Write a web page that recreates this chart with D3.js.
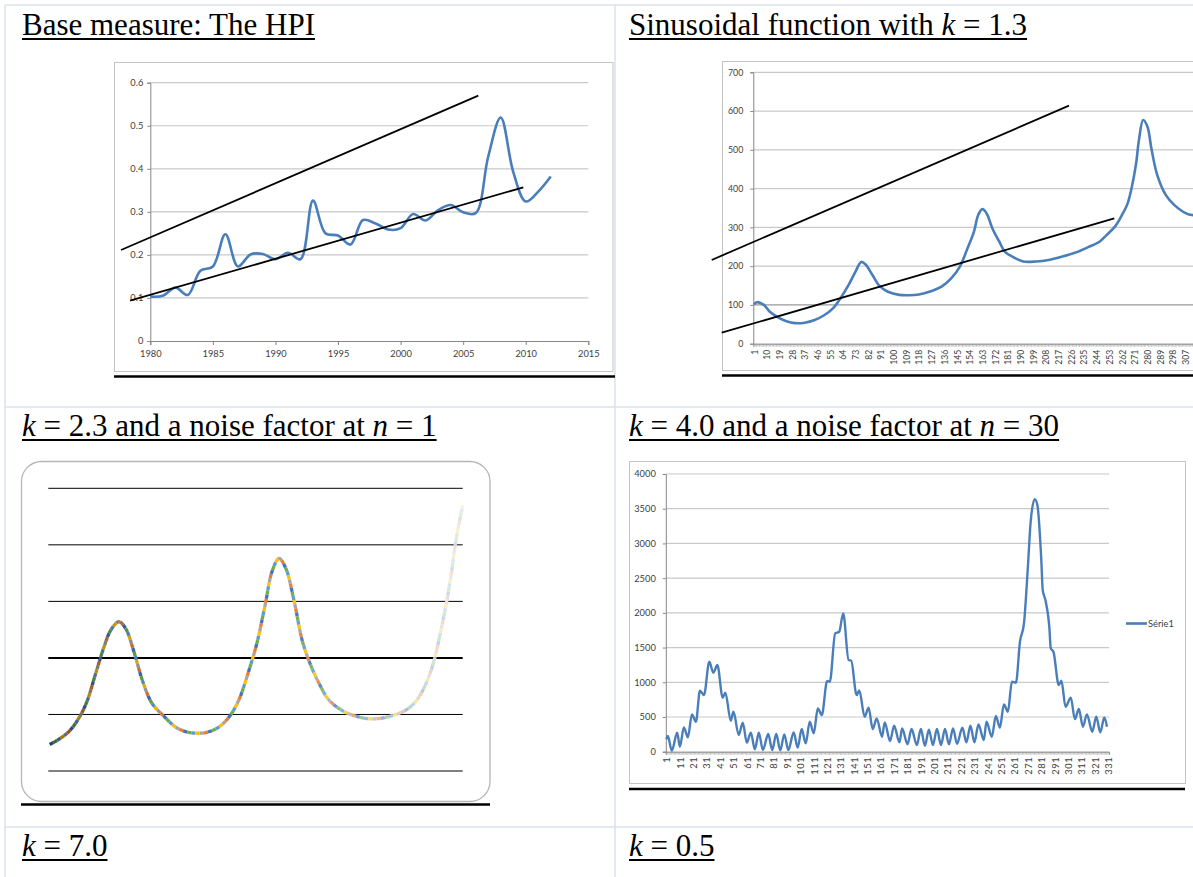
<!DOCTYPE html>
<html><head><meta charset="utf-8">
<script src="https://cdn.jsdelivr.net/npm/d3@7"></script>
<style>body{margin:0;background:#fff;overflow:hidden}svg{display:block}</style>
</head><body>
<svg id="c" width="1193" height="877"></svg>
<script>
// ---------- DATA ----------
// Titles (segments: [text, italic])
const title1 = [["Base measure: The HPI", false]];
const title2 = [["Sinusoidal function with ", false], ["k", true], [" = 1.3", false]];
const title3 = [["k", true], [" = 2.3 and a noise factor at ", false], ["n", true], [" = 1", false]];
const title4 = [["k", true], [" = 4.0 and a noise factor at ", false], ["n", true], [" = 30", false]];
const title5 = [["k", true], [" = 7.0", false]];
const title6 = [["k", true], [" = 0.5", false]];

// Chart 1: HPI
const hpiYears = [1980,1981,1982,1983,1984,1985,1986,1987,1988,1989,1990,1991,1992,1993,1994,1995,1996,1997,1998,1999,2000,2001,2002,2003,2004,2005,2006,2007,2008,2009,2010,2011,2012];
const hpiValues = [0.103,0.105,0.124,0.107,0.163,0.173,0.248,0.173,0.201,0.202,0.190,0.205,0.190,0.326,0.250,0.245,0.224,0.281,0.273,0.259,0.262,0.295,0.280,0.304,0.316,0.299,0.297,0.428,0.519,0.393,0.324,0.347,0.382];
const hpiTrendUpperX = [1977.66, 2006.21];
const hpiTrendUpperY = [0.2114, 0.5698];
const hpiTrendLowerX = [1978.38, 2009.81];
const hpiTrendLowerY = [0.0936, 0.357];
const hpiXTicks = [1980,1985,1990,1995,2000,2005,2010,2015];
const hpiYTicks = [0,0.1,0.2,0.3,0.4,0.5,0.6];

// Chart 2: sinusoidal k = 1.3
const sinCats = [1,3,8,12,18,24,30,37,44,51,57,63,68,73,77,80,85,90,96,104,111,118,127,134,141,147,152,157,160,163,166,170,175,179,185,192,201,210,219,229,238,246,251,257,262,266,269,272,274,277,280,283,287,293,299,305,309,316,325,330];
const sinValues = [101,107,100,83,68,58,53,54,61,74,91,121,151,186,211,205,177,149,134,126,125,127,136,147,169,199,242,289,332,347,336,298,263,237,223,212,212,216,224,235,249,263,280,302,332,362,405,465,525,577,560,500,435,384,358,341,334,330,327,325];
const sinCount = 330;
const sinTrendUpperX = [-29, 224.4];
const sinTrendUpperY = [216, 613.9];
const sinTrendLowerX = [-21.9, 256.5];
const sinTrendLowerY = [28.4, 323.4];
const sinXLabels = [1,10,19,28,37,46,55,64,73,82,91,100,109,118,127,136,145,154,163,172,181,190,199,208,217,226,235,244,253,262,271,280,289,298,307];
const sinYTicks = [0,100,200,300,400,500,600,700];

// Chart 3: k = 2.3, noise n = 1 (no axis labels)
const noise1X = [1,7,15,22,28,34,40,45,51,56,62,68,75,84,92,99,106,114,123,131,138,145,151,157,162,167,172,178,184,190,196,203,212,220,230,240,249,259,266,273,279,284,288,292,295,300];
const noise1Values = [47,55,70,93,123,170,217,248,264,252,211,161,120,96,78,70,67,68,77,96,126,176,226,294,353,376,358,300,229,187,155,126,108,99,93,93,98,108,123,152,193,246,294,353,406,470];
const noise1Grid = [0,100,200,300,400,500];

// Chart 4: k = 4.0, noise n = 30
const noise30Cats = [1,2,5,9,11,14,17,20,23,26,29,33,36,39,43,45,49,51,55,58,61,64,67,70,73,77,80,83,86,89,92,96,99,102,105,108,111,114,117,121,123,127,130,133,137,139,143,145,149,152,155,158,162,164,168,171,175,177,181,184,188,191,194,197,200,203,206,209,212,215,218,222,225,228,231,234,238,240,244,247,250,253,256,259,262,265,268,271,273,276,278,281,282,284,287,288,290,294,296,299,303,306,309,312,315,319,322,325,328,330];
const noise30Values = [180,226,14,274,72,350,206,538,432,878,816,1296,1138,1248,778,850,446,576,240,418,130,274,34,274,24,254,24,254,19,250,24,278,58,326,120,432,264,624,528,1018,1008,1704,1728,1992,1320,1310,816,883,504,634,326,480,216,422,154,374,134,336,106,326,96,326,86,317,96,326,96,326,106,336,115,346,134,374,134,394,168,432,216,514,346,682,576,1008,994,1584,1848,2688,3312,3638,3552,2736,2328,2184,1776,1488,1440,960,1022,648,778,470,614,360,538,288,504,278,494,360];
const noise30Count = 331;
const noise30XLabels = [1,11,21,31,41,51,61,71,81,91,101,111,121,131,141,151,161,171,181,191,201,211,221,231,241,251,261,271,281,291,301,311,321,331];
const noise30YTicks = [0,500,1000,1500,2000,2500,3000,3500,4000];
const noise30Legend = "Série1";

// ---------- STYLE ----------
const BLUE = "#4a7ebb", GRID = "#c9c9c9", AXIS = "#868686", LABEL = "#404040", FRAME = "#c4c4c4";
const TABLE = "#d8e2ec";
const SANS = "Lato, 'Liberation Sans', sans-serif";
const SERIF = "'Liberation Serif', 'Times New Roman', serif";

const svg = d3.select("#c");

// ---------- TABLE ----------
const tbl = svg.append("g").attr("stroke", TABLE).attr("stroke-width", 1.5);
[5, 407, 827].forEach(y => tbl.append("line").attr("x1", 5).attr("x2", 1193).attr("y1", y).attr("y2", y));
[5, 615].forEach(x => tbl.append("line").attr("x1", x).attr("x2", x).attr("y1", 5).attr("y2", 877));

function title(segs, x, y) {
  const t = svg.append("text").attr("x", x).attr("y", y)
    .style("font-family", SERIF).style("font-size", "31px").attr("fill", "#000");
  segs.forEach(s => t.append("tspan").text(s[0]).style("font-style", s[1] ? "italic" : "normal"));
  const w = t.node().getComputedTextLength();
  svg.append("line").attr("x1", x).attr("x2", x + w).attr("y1", y + 4).attr("y2", y + 4)
    .attr("stroke", "#000").attr("stroke-width", 2);
}
title(title1, 22, 35);
title(title2, 629, 35);
title(title3, 22, 436);
title(title4, 629, 436);
title(title5, 22, 856);
title(title6, 629, 856);

function styleAxis(g, fs) {
  g.select(".domain").attr("stroke", AXIS);
  g.selectAll(".tick line").attr("stroke", AXIS);
  g.selectAll(".tick text").attr("fill", LABEL).style("font-family", SANS).style("font-size", fs);
}
function thickRule(x1, x2, y) {
  svg.append("line").attr("x1", x1).attr("x2", x2).attr("y1", y).attr("y2", y)
    .attr("stroke", "#000").attr("stroke-width", 2.5);
}

// ---------- CHART 1 ----------
{
  const g = svg.append("g");
  g.append("rect").attr("x", 114.5).attr("y", 62.5).attr("width", 498.5).attr("height", 309)
    .attr("fill", "#fff").attr("stroke", FRAME);
  const x = d3.scaleLinear().domain([1980, 2015]).range([150.3, 588.3]);
  const y = d3.scaleLinear().domain([0, 0.6]).range([341, 82.7]);
  g.append("g").selectAll("line").data(hpiYTicks.filter(d => d > 0)).join("line")
    .attr("x1", x(1980)).attr("x2", x(2015)).attr("y1", d => y(d)).attr("y2", d => y(d))
    .attr("stroke", GRID).attr("stroke-width", 1.2);
  const ya = g.append("g").attr("transform", `translate(${x(1980)},0)`)
    .call(d3.axisLeft(y).tickValues(hpiYTicks).tickSize(3).tickPadding(4).tickFormat(d => String(d)));
  styleAxis(ya, "9.3px");
  const xa = g.append("g").attr("transform", `translate(0,${y(0)})`)
    .call(d3.axisBottom(x).tickValues(hpiXTicks).tickSize(4).tickPadding(5).tickFormat(d => String(d)));
  styleAxis(xa, "9.3px");
  const line = d3.line().x(d => x(d[0])).y(d => y(d[1])).curve(d3.curveCatmullRom.alpha(0.5));
  g.append("path").attr("d", line(hpiYears.map((d, i) => [d, hpiValues[i]])))
    .attr("fill", "none").attr("stroke", BLUE).attr("stroke-width", 2.6);
  const straight = d3.line().x(d => x(d[0])).y(d => y(d[1]));
  g.append("path").attr("d", straight(hpiTrendUpperX.map((d, i) => [d, hpiTrendUpperY[i]])))
    .attr("stroke", "#000").attr("stroke-width", 1.8).attr("fill", "none");
  g.append("path").attr("d", straight(hpiTrendLowerX.map((d, i) => [d, hpiTrendLowerY[i]])))
    .attr("stroke", "#000").attr("stroke-width", 1.8).attr("fill", "none");
  thickRule(114, 615, 376.5);
}

// ---------- CHART 2 ----------
{
  const g = svg.append("g");
  g.append("rect").attr("x", 722.5).attr("y", 61.5).attr("width", 520).attr("height", 309)
    .attr("fill", "#fff").attr("stroke", FRAME);
  const x = d3.scaleLinear().domain([0.5, sinCount + 0.5]).range([753.3, 753.3 + sinCount * 1.41]);
  const y = d3.scaleLinear().domain([0, 700]).range([343.7, 72.3]);
  g.append("g").selectAll("line").data(sinYTicks.filter(d => d > 0)).join("line")
    .attr("x1", x(0.5)).attr("x2", x(sinCount + 0.5)).attr("y1", d => y(d)).attr("y2", d => y(d))
    .attr("stroke", d => d === 100 ? "#9a9a9a" : GRID).attr("stroke-width", 1.2);
  const ya = g.append("g").attr("transform", `translate(${x(0.5)},0)`)
    .call(d3.axisLeft(y).tickValues(sinYTicks).tickSize(3).tickPadding(7).tickFormat(d => String(d)));
  styleAxis(ya, "8.8px");
  // minor ticks between categories
  const bounds = d3.range(0, sinCount + 1).map(i => i + 0.5);
  const xm = g.append("g").attr("transform", `translate(0,${y(0)})`)
    .call(d3.axisBottom(x).tickValues(bounds).tickSize(3).tickFormat(""));
  styleAxis(xm, "8px");
  xm.selectAll(".tick line").attr("stroke-width", 0.6).attr("stroke", "#999");
  const xl = g.append("g").attr("transform", `translate(0,${y(0)})`)
    .call(d3.axisBottom(x).tickValues(sinXLabels).tickSize(0).tickFormat(d => String(d)));
  xl.select(".domain").remove();
  xl.selectAll(".tick text").attr("transform", "rotate(-90)").attr("x", -6).attr("y", 0).attr("dy", "0.35em")
    .style("text-anchor", "end").attr("fill", LABEL).style("font-family", SANS).style("font-size", "8.6px");
  const line = d3.line().x(d => x(d[0])).y(d => y(d[1])).curve(d3.curveCatmullRom.alpha(0.5));
  g.append("path").attr("d", line(sinCats.map((d, i) => [d, sinValues[i]])))
    .attr("fill", "none").attr("stroke", BLUE).attr("stroke-width", 2.6);
  const straight = d3.line().x(d => x(d[0])).y(d => y(d[1]));
  g.append("path").attr("d", straight(sinTrendUpperX.map((d, i) => [d, sinTrendUpperY[i]])))
    .attr("stroke", "#000").attr("stroke-width", 1.8).attr("fill", "none");
  g.append("path").attr("d", straight(sinTrendLowerX.map((d, i) => [d, sinTrendLowerY[i]])))
    .attr("stroke", "#000").attr("stroke-width", 1.8).attr("fill", "none");
  thickRule(722, 1193, 375.5);
}

// ---------- CHART 3 ----------
{
  const g = svg.append("g");
  g.append("rect").attr("x", 21.5).attr("y", 461.5).attr("width", 468.5).attr("height", 340)
    .attr("rx", 20).attr("ry", 20).attr("fill", "#fff").attr("stroke", "#b5b5b5").attr("stroke-width", 1.3);
  const x = d3.scaleLinear().domain([0, 300]).range([48.3, 462.7]);
  const y = d3.scaleLinear().domain([0, 500]).range([771, 488.3]);
  g.append("g").selectAll("line").data(noise1Grid).join("line")
    .attr("x1", x(0)).attr("x2", x(300)).attr("y1", d => y(d)).attr("y2", d => y(d))
    .attr("stroke", "#000").attr("stroke-width", d => d === 200 ? 2 : 1);
  const line = d3.line().x(d => x(d[0])).y(d => y(d[1])).curve(d3.curveCatmullRom.alpha(0.5));
  const p = g.append("path").attr("d", line(noise1X.map((d, i) => [d, noise1Values[i]])))
    .attr("fill", "none").attr("stroke", "none");
  const node = p.node(), L = node.getTotalLength();
  const palette = ["#4472c4", "#ed7d31", "#a5a5a5", "#ffc000", "#5b9bd5", "#70ad47"];
  const seg = 4.2, x0 = x(0), x1 = x(300);
  const n = Math.ceil(L / seg);
  for (let j = 0; j < n; j++) {
    const a = j * seg, b = Math.min(L, (j + 1) * seg);
    const pts = [];
    for (let s = a; s < b; s += 0.9) pts.push(node.getPointAtLength(s));
    pts.push(node.getPointAtLength(b));
    const mid = node.getPointAtLength((a + b) / 2);
    const f = (mid.x - x0) / (x1 - x0);
    let c = palette[(j * 5) % 6];
    if (f < 0.32) c = d3.interpolateRgb(c, "#000")((0.32 - f) / 0.32 * 0.42);
    else if (f > 0.58) c = d3.interpolateRgb(c, "#fff")(Math.min(1, (f - 0.58) / 0.42) * 0.8);
    g.append("polyline").attr("points", pts.map(q => q.x + "," + q.y).join(" "))
      .attr("fill", "none").attr("stroke", c).attr("stroke-width", 3.3);
  }
  thickRule(21, 490, 804.5);
}

// ---------- CHART 4 ----------
{
  const g = svg.append("g");
  g.append("rect").attr("x", 629.5).attr("y", 461.5).attr("width", 556).attr("height", 322)
    .attr("fill", "#fff").attr("stroke", FRAME);
  const x = d3.scaleLinear().domain([0.5, noise30Count + 0.5]).range([665.8, 1109]);
  const y = d3.scaleLinear().domain([0, 4000]).range([751.7, 474]);
  g.append("g").selectAll("line").data(noise30YTicks.filter(d => d > 0)).join("line")
    .attr("x1", x(0.5)).attr("x2", x(noise30Count + 0.5)).attr("y1", d => y(d)).attr("y2", d => y(d))
    .attr("stroke", GRID).attr("stroke-width", 1.2);
  const ya = g.append("g").attr("transform", `translate(${x(0.5)},0)`)
    .call(d3.axisLeft(y).tickValues(noise30YTicks).tickSize(3).tickPadding(7).tickFormat(d => String(d)));
  styleAxis(ya, "9.3px");
  const bounds = d3.range(0, noise30Count + 1).map(i => i + 0.5);
  const xm = g.append("g").attr("transform", `translate(0,${y(0)})`)
    .call(d3.axisBottom(x).tickValues(bounds).tickSize(3).tickFormat(""));
  styleAxis(xm, "8px");
  xm.selectAll(".tick line").attr("stroke-width", 0.6).attr("stroke", "#999");
  const xl = g.append("g").attr("transform", `translate(0,${y(0)})`)
    .call(d3.axisBottom(x).tickValues(noise30XLabels).tickSize(0).tickFormat(d => String(d)));
  xl.select(".domain").remove();
  xl.selectAll(".tick text").attr("transform", "rotate(-90)").attr("x", -5).attr("y", 0).attr("dy", "0.35em")
    .style("text-anchor", "end").attr("fill", LABEL).style("font-family", SANS).style("font-size", "9.3px")
    .style("letter-spacing", "0.6px");
  const line = d3.line().x(d => x(d[0])).y(d => y(d[1])).curve(d3.curveMonotoneX);
  g.append("path").attr("d", line(noise30Cats.map((d, i) => [d, noise30Values[i]])))
    .attr("fill", "none").attr("stroke", BLUE).attr("stroke-width", 2.4).attr("stroke-linejoin", "round");
  // legend
  g.append("line").attr("x1", 1126).attr("x2", 1147).attr("y1", 623.5).attr("y2", 623.5)
    .attr("stroke", BLUE).attr("stroke-width", 2.6);
  g.append("text").attr("x", 1148).attr("y", 623.5).attr("dy", "0.35em").text(noise30Legend)
    .attr("fill", LABEL).style("font-family", SANS).style("font-size", "9.3px");
  thickRule(629, 1185, 789);
}
</script>
</body></html>
